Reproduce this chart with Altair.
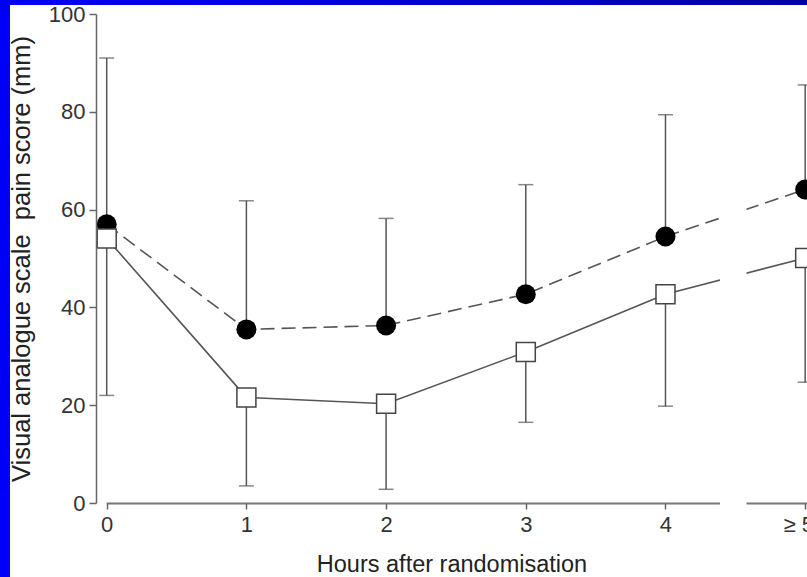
import altair as alt
import pandas as pd

# Hours after randomisation (5 stands for the "5 or more" group)
hours = [0, 1, 2, 3, 4, 5]
hour_labels = ["0", "1", "2", "3", "4", "≥ 5"]

# Filled circles: mean VAS pain score with upper SD bar
circle_mean = [57.0, 35.5, 36.3, 42.7, 54.5, 64.1]
circle_upper = [91.0, 61.8, 58.2, 65.1, 79.4, 85.5]

# Open squares: mean VAS pain score with lower SD bar
square_mean = [54.1, 21.6, 20.3, 30.9, 42.7, 50.1]
square_lower = [22.0, 3.5, 2.8, 16.5, 19.8, 24.7]

W, H = 711, 489
FONT = "Liberation Sans"
LINE = "#555555"

circles = pd.DataFrame({"hour": hours, "mean": circle_mean, "bar": circle_upper})
squares = pd.DataFrame({"hour": hours, "mean": square_mean, "bar": square_lower})

x_scale = alt.Scale(domain=[-0.0766, 5.013], nice=False, zero=False)
y_scale = alt.Scale(domain=[0, 100], nice=False, zero=True)

label_expr = "[" + ",".join("'%s'" % s for s in hour_labels) + "][datum.value]"
x_axis = alt.Axis(
    title="Hours after randomisation", values=hours, labelExpr=label_expr,
    domain=False, grid=False, tickSize=6, tickWidth=1.5, tickColor="#666666",
    labelFont=FONT, labelFontSize=22, labelColor="#333333", labelPadding=5,
    labelOffset={"condition": {"test": "datum.value == 5", "value": -7}, "value": 0},
    labelFlush=False, labelOverlap=False, labelBound=False,
    titleFont=FONT, titleFontSize=23.5, titleFontWeight="normal", titleColor="#222222",
    titlePadding=17, zindex=1,
)
y_axis = alt.Axis(
    title="Visual analogue scale\u00a0 pain score (mm)", values=[0, 20, 40, 60, 80, 100],
    domain=True, domainColor="#666666", domainWidth=1.5, grid=False,
    tickSize=7, tickWidth=1.5, tickColor="#666666",
    labelFont=FONT, labelFontSize=22, labelColor="#333333", labelPadding=4,
    titleFont=FONT, titleFontSize=25.5, titleFontWeight="normal", titleColor="#222222",
    titlePadding=14, zindex=1,
)


def xe(field):
    return alt.X(field, type="quantitative", scale=x_scale, axis=x_axis)


def ye(field):
    return alt.Y(field, type="quantitative", scale=y_scale, axis=y_axis)


# error bars (upward for circles, downward for squares)
circ_bar = alt.Chart(circles).mark_rule(color=LINE, strokeWidth=1.5).encode(
    x=xe("hour"), y=ye("mean"), y2="bar")
circ_cap = alt.Chart(circles).mark_tick(orient="horizontal", size=15, thickness=1.5, color=LINE).encode(
    x=xe("hour"), y=ye("bar"))
sq_bar = alt.Chart(squares).mark_rule(color=LINE, strokeWidth=1.5).encode(
    x=xe("hour"), y=ye("bar"), y2="mean")
sq_cap = alt.Chart(squares).mark_tick(orient="horizontal", size=15, thickness=1.5, color=LINE).encode(
    x=xe("hour"), y=ye("bar"))

# connecting lines
circ_line = alt.Chart(circles).mark_line(color=LINE, strokeWidth=1.6, strokeDash=[14, 7]).encode(
    x=xe("hour"), y=ye("mean"))
sq_line = alt.Chart(squares).mark_line(color=LINE, strokeWidth=1.6).encode(
    x=xe("hour"), y=ye("mean"))

# x axis line, starting at hour 0
axis_df = pd.DataFrame({"hour": [0.0], "end": [5.013]})
x_line = alt.Chart(axis_df).mark_rule(color="#777777", strokeWidth=2).encode(
    x=xe("hour"), x2="end", y=alt.value(H + 0.5))

# axis / line break between 4 and >=5
break_df = pd.DataFrame({"hour": [4.39], "end": [4.58]})
x_break = alt.Chart(break_df).mark_rect(color="white").encode(
    x=xe("hour"), x2="end", y=alt.value(0), y2=alt.value(H + 5))

# markers
circ_pts = alt.Chart(circles).mark_point(
    shape="circle", filled=True, size=400, color="black", opacity=1).encode(
    x=xe("hour"), y=ye("mean"))
sq_pts = alt.Chart(squares).mark_point(
    shape="square", filled=True, size=361, fill="white", stroke="#444444",
    strokeWidth=1.5, opacity=1).encode(x=xe("hour"), y=ye("mean"))

# blue frame strips along the top and left edges
frame = pd.DataFrame({"k": [0]})
left_strip = alt.Chart(frame).mark_rect(color="#0000f8").encode(
    x=alt.value(-96), x2=alt.value(-86), y=alt.value(-14), y2=alt.value(H + 74))
top_strip = alt.Chart(frame).mark_rect(
    color=alt.Gradient(gradient="linear", x1=0, x2=1, y1=0, y2=0,
                       stops=[alt.GradientStop(color="#0000f8", offset=0),
                              alt.GradientStop(color="#0000a8", offset=1)])).encode(
    x=alt.value(-96), x2=alt.value(W), y=alt.value(-14), y2=alt.value(-9))

chart = alt.layer(
    circ_bar, circ_cap, sq_bar, sq_cap, circ_line, sq_line, x_line, x_break,
    circ_pts, sq_pts, left_strip, top_strip,
).properties(
    width=W, height=H,
    autosize=alt.AutoSizeParams(type="none"),
    padding={"left": 96, "top": 14, "right": 0, "bottom": 74},
    background="white",
).configure_view(stroke=None)

chart.save("out.html", embed_options={"renderer": "svg", "actions": False})
